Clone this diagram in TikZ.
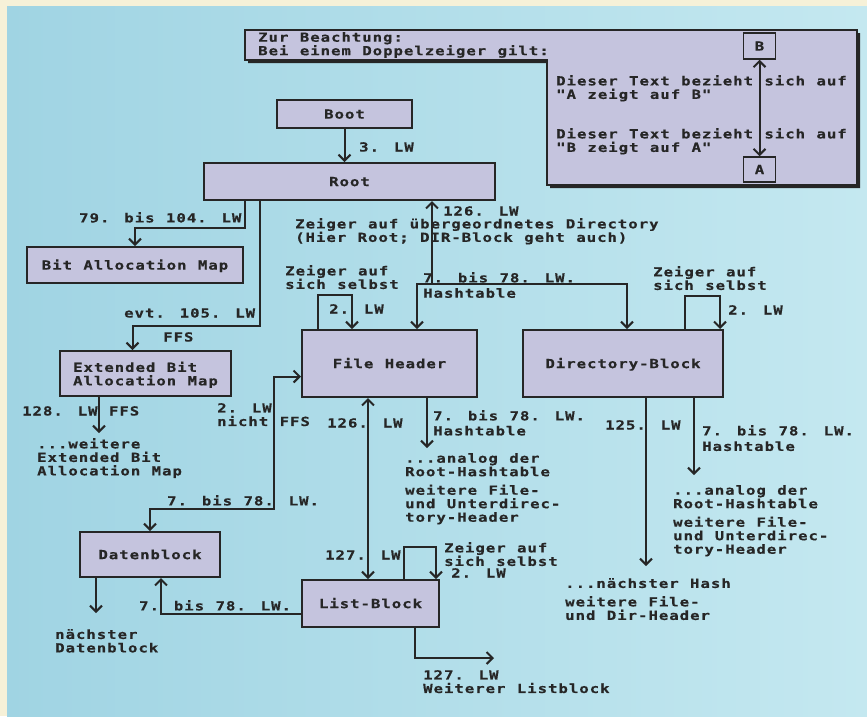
\documentclass[tikz,border=0pt]{standalone}
\usepackage{fontspec}
\usetikzlibrary{arrows.meta}
\newfontfamily\lwfont{DejaVu Sans Mono}[FakeStretch=1.25,LetterSpace=8,WordSpace=1.1,
	BoldFeatures={FakeBold=0.5}]
\newcommand{\lwtext}{\lwfont\bfseries\fontsize{12.5}{13.5}\selectfont}

\definecolor{paper}{RGB}{246,241,216}
\definecolor{skyl}{RGB}{160,212,227}
\definecolor{skyr}{RGB}{196,232,240}
\definecolor{lila}{RGB}{197,196,222}
\definecolor{ink}{RGB}{38,38,38}

\tikzset{
	blk/.style={draw=ink, line width=2pt, fill=lila, font=\lwtext, text=ink,
		inner sep=0pt, text height=9.2pt, text depth=0pt},
	lbl/.style={anchor=north west, inner sep=0pt, align=left, font=\lwtext, text=ink,
		execute at begin node=\rule{0pt}{9.3pt}},
	wire/.style={draw=ink, line width=2pt}
}

\begin{document}
\begin{tikzpicture}[x=1pt,y=-1pt,>={Straight Barb[length=6pt,width=12pt]}]
	\useasboundingbox (0,0) rectangle (867,716);
	\fill[paper] (0,0) rectangle (867,716);
	\shade[left color=skyl, right color=skyr] (7,6) rectangle (867,716);

	% Hinweiskasten oben rechts
	\fill[ink] (248,33) -- (860,33) -- (860,188) -- (550,188) -- (550,63) -- (248,63) -- cycle;
	\filldraw[fill=lila, draw=ink, line width=2pt] (245,30) -- (857,30) -- (857,185)
		-- (547,185) -- (547,60) -- (245,60) -- cycle;
	\node[lbl] (hint) at (258,32) {Zur Beachtung:\\Bei einem Doppelzeiger gilt:};
	\node[blk, line width=1.5pt, minimum width=32pt, minimum height=26pt] (ptrb) at (759.5,46) {B};
	\node[blk, line width=1.5pt, minimum width=32pt, minimum height=25pt] (ptra) at (759.5,169.5) {A};
		\draw[wire,<->] (ptrb) -- (ptra);
	\node[lbl] (ab) at (556,75) {Dieser Text bezieht sich auf\\"A zeigt auf B"};
	\node[lbl] (ba) at (556,128) {Dieser Text bezieht sich auf\\"B zeigt auf A"};

	% Bloecke
	\node[blk, minimum width=135pt, minimum height=28pt] (boot) at (344.5,114) {Boot};
	\node[blk, minimum width=291pt, minimum height=37pt] (root) at (349.5,181.5) {Root};
	\node[blk, minimum width=216pt, minimum height=36pt] (bam) at (135,265) {Bit Allocation Map};
	\node[blk, minimum width=171pt, minimum height=45pt, align=left, text height={}] (ebam)
		at (145.5,373.5) {Extended Bit\\Allocation Map};
	\node[blk, minimum width=175pt, minimum height=67pt] (fh) at (389.5,363.5) {File Header};
	\node[blk, minimum width=200pt, minimum height=67pt] (dirb) at (623,363.5) {Directory-Block};
	\node[blk, minimum width=140pt, minimum height=45pt] (daten) at (150,554.5) {Datenblock};
	\node[blk, minimum width=137pt, minimum height=47pt] (listb) at (370.5,603.5) {List-Block};

	% Boot und Root
	\draw[wire,->] (boot.south) -- (boot.south |- root.north);
		\node[lbl] (l3) at (359,142) {3. LW};
	\draw[wire,->] ([xshift=42pt]root.south west) -- ++(0,27) -| (bam.north);
		\node[lbl] (lbam) at (79,212) {79. bis 104. LW};
	\draw[wire,->] ([xshift=57pt]root.south west) -- ++(0,125) -| ([xshift=-13pt]ebam.north);
		\node[lbl] (lebam) at (124,308) {evt. 105. LW};
		\node[lbl] (lffs) at (163,332) {FFS};
	\coordinate (ebnext) at (99,433);
	\draw[wire,->] (ebam.south -| ebnext) -- (ebnext);
		\node[lbl] (l128) at (22,406) {128. LW FFS};
		\node[lbl] (tebam) at (37,438) {...weitere\\Extended Bit\\Allocation Map};

	% Hashtable der Root
	\coordinate (hash) at (432,284);
	\draw[wire,->] (hash) -- (hash |- root.south);
	\draw[wire,<->] ([xshift=116pt]fh.north west) |- (hash) -| ([xshift=105pt]dirb.north west);
		\node[lbl] (l126r) at (443,206) {126. LW};
		\node[lbl] (tparent) at (295,218) {Zeiger auf übergeordnetes Directory\\(Hier Root; DIR-Block geht auch)};
		\node[lbl] (lhash) at (423,272) {7. bis 78. LW.};
		\node[lbl] (thash) at (423,288) {Hashtable};

	% File Header
	\draw[wire,->] ([xshift=17pt]fh.north west) -- ++(0,-34) -| ([xshift=51pt]fh.north west);
		\node[lbl] (tfself) at (285,265) {Zeiger auf\\sich selbst};
		\node[lbl] (lfself) at (329,304) {2. LW};
	\coordinate (fhnext) at (427,448);
	\draw[wire,->] (fh.south -| fhnext) -- (fhnext);
		\node[lbl] (lfhash) at (433,410) {7. bis 78. LW.\\[1.5pt]Hashtable};
		\node[lbl] (tfhash) at (405,453) {...analog der\\Root-Hashtable\\[5pt]weitere File-\\und Unterdirec-\\tory-Header};
	\draw[wire,<->] ([xshift=67pt]fh.south west) -- ([xshift=67pt]listb.north west);
		\node[lbl] (l126f) at (327,418) {126. LW};
		\node[lbl] (l127f) at (325,550) {127. LW};

	% Datenbloecke
	\coordinate (dbend) at (274,509);
	\draw[wire,<->] ([yshift=-13pt]fh.west) -| (dbend) -| (daten.north);
		\node[lbl] (lnffs) at (217,403) {2. LW\\nicht FFS};
		\node[lbl] (ldat) at (167,495) {7. bis 78. LW.};
	\draw[wire,->] ([yshift=-10pt]listb.west) -| ([xshift=82pt]daten.south west);
		\node[lbl] (lldat) at (139,600) {7. bis 78. LW.};
	\coordinate (dnext) at (96,613);
	\draw[wire,->] (daten.south -| dnext) -- (dnext);
		\node[lbl] (tdnext) at (55,629) {nächster\\Datenblock};

	% List-Block
	\draw[wire,->] ([xshift=103pt]listb.north west) -- ++(0,-32) -| ([xshift=135pt]listb.north west);
		\node[lbl] (tlself) at (444,542) {Zeiger auf\\sich selbst};
		\node[lbl] (llself) at (451,568) {2. LW};
	\coordinate (lnext) at (494,658);
	\draw[wire,->] ([xshift=114pt]listb.south west) |- (lnext);
		\node[lbl] (tlnext) at (423,670) {127. LW\\Weiterer Listblock};

	% Directory-Block
	\draw[wire,->] ([xshift=163pt]dirb.north west) -- ++(0,-33) -| ([xshift=198pt]dirb.north west);
		\node[lbl] (tdself) at (653,266) {Zeiger auf\\sich selbst};
		\node[lbl] (ldself) at (728,305) {2. LW};
	\coordinate (hnext) at (646,566);
	\draw[wire,->] (dirb.south -| hnext) -- (hnext);
		\node[lbl] (l125) at (605,420) {125. LW};
		\node[lbl] (thnext) at (565,578) {...nächster Hash\\[5pt]weitere File-\\und Dir-Header};
	\coordinate (dhash) at (694,475);
	\draw[wire,->] (dirb.south -| dhash) -- (dhash);
		\node[lbl] (ldhash) at (702,425) {7. bis 78. LW.\\[2pt]Hashtable};
		\node[lbl] (tdhash) at (673,485) {...analog der\\Root-Hashtable\\[5pt]weitere File-\\und Unterdirec-\\tory-Header};
\end{tikzpicture}
\end{document}
